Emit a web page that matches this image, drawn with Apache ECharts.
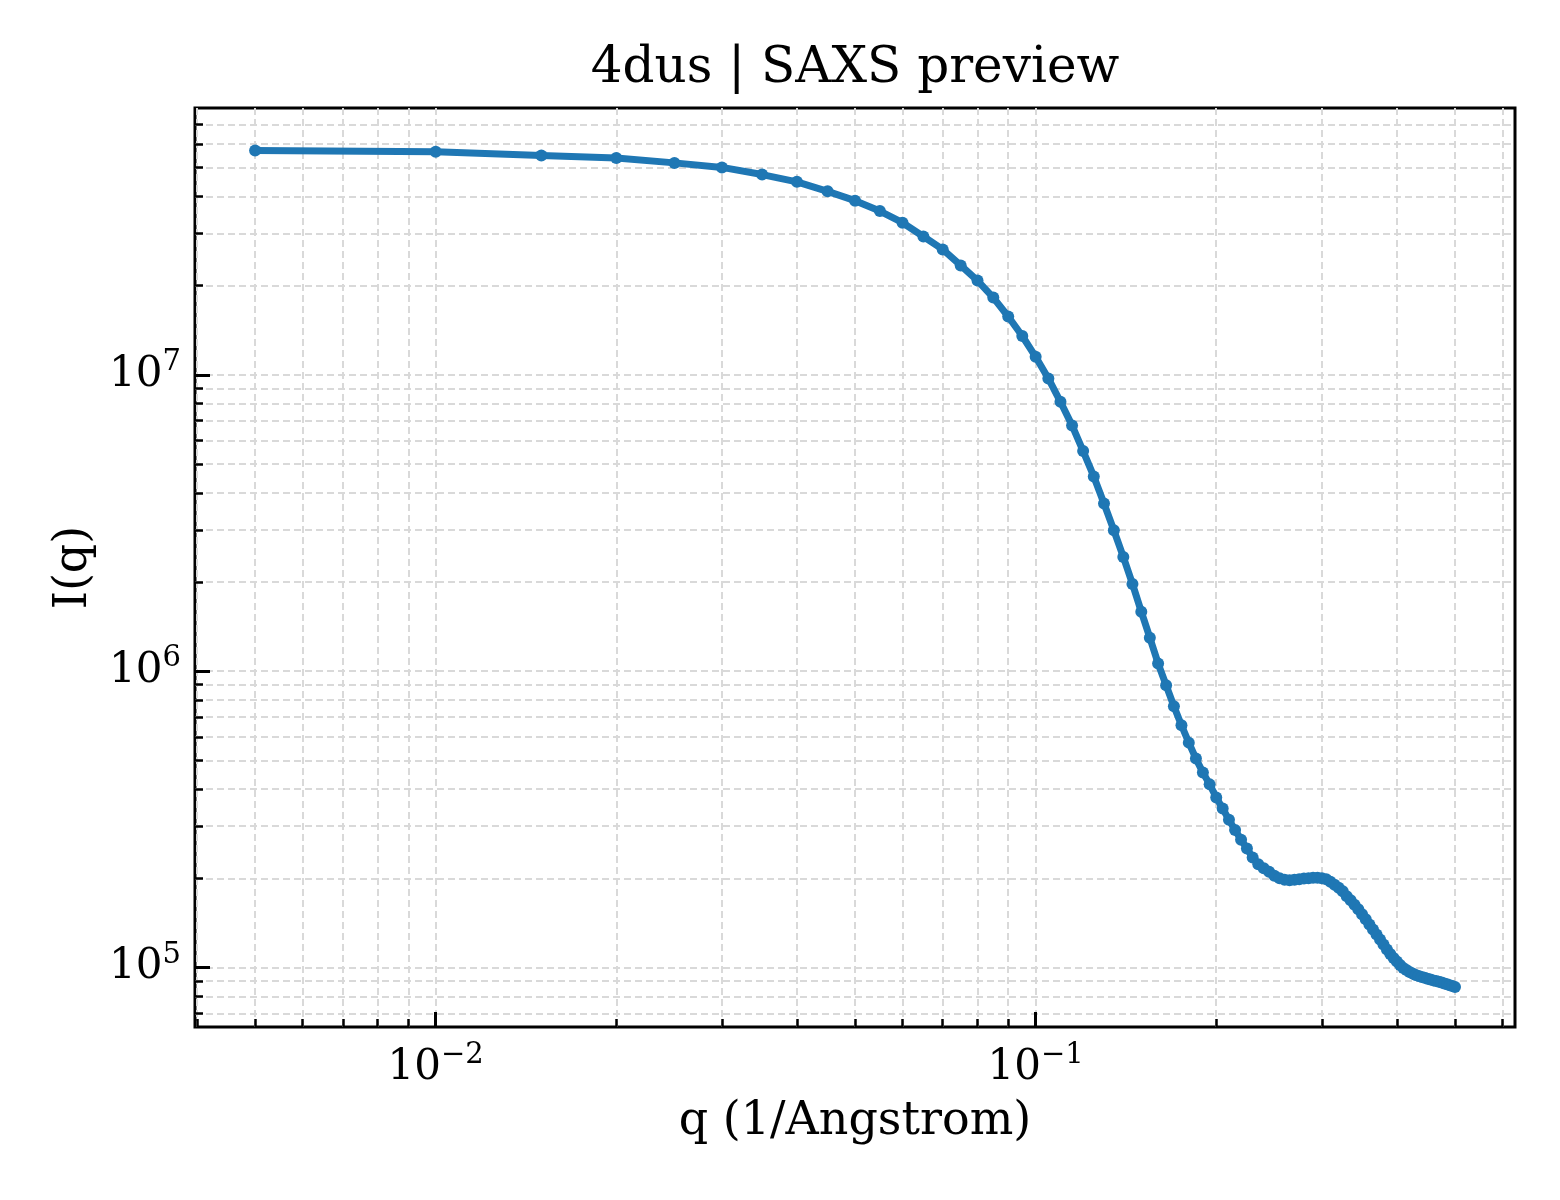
<!DOCTYPE html>
<html>
<head>
<meta charset="utf-8">
<title>4dus | SAXS preview</title>
<script src="https://cdn.jsdelivr.net/npm/echarts@6/dist/echarts.min.js"></script>
<style>
  html, body { margin: 0; padding: 0; background: #fff; }
  #chart { width: 1560px; height: 1200px; }
</style>
</head>
<body>
<div id="chart"></div>
<script>
// q values (1/Angstrom)
var qValues = [
  0.005, 0.010, 0.015, 0.020, 0.025, 0.030, 0.035, 0.040, 0.045, 0.050,
  0.055, 0.060, 0.065, 0.070, 0.075, 0.080, 0.085, 0.090, 0.095, 0.100,
  0.105, 0.110, 0.115, 0.120, 0.125, 0.130, 0.135, 0.140, 0.145, 0.150,
  0.155, 0.160, 0.165, 0.170, 0.175, 0.180, 0.185, 0.190, 0.195, 0.200,
  0.205, 0.210, 0.215, 0.220, 0.225, 0.230, 0.235, 0.240, 0.245, 0.250,
  0.255, 0.260, 0.265, 0.270, 0.275, 0.280, 0.285, 0.290, 0.295, 0.300,
  0.305, 0.310, 0.315, 0.320, 0.325, 0.330, 0.335, 0.340, 0.345, 0.350,
  0.355, 0.360, 0.365, 0.370, 0.375, 0.380, 0.385, 0.390, 0.395, 0.400,
  0.405, 0.410, 0.415, 0.420, 0.425, 0.430, 0.435, 0.440, 0.445, 0.450,
  0.455, 0.460, 0.465, 0.470, 0.475, 0.480, 0.485, 0.490, 0.495, 0.500
];

// I(q)
var intensity = [
  5.71e7, 5.66e7, 5.50e7, 5.39e7, 5.19e7, 5.01e7, 4.74e7, 4.48e7, 4.16e7, 3.87e7,
  3.57e7, 3.26e7, 2.93e7, 2.65e7, 2.34e7, 2.08e7, 1.823e7, 1.573e7, 1.352e7, 1.150e7,
  9.72e6, 8.11e6, 6.75e6, 5.53e6, 4.54e6, 3.68e6, 2.99e6, 2.43e6, 1.97e6, 1.588e6,
  1.297e6, 1.062e6, 8.96e5, 7.62e5, 6.57e5, 5.74e5, 5.07e5, 4.55e5, 4.15e5, 3.75e5,
  3.44e5, 3.15e5, 2.91e5, 2.70e5, 2.52e5, 2.35e5, 2.232e5, 2.163e5, 2.105e5, 2.040e5,
  2.001e5, 1.978e5, 1.970e5, 1.978e5, 1.986e5, 1.997e5, 2.001e5, 2.009e5, 2.009e5, 2.001e5,
  1.986e5, 1.947e5, 1.902e5, 1.858e5, 1.808e5, 1.739e5, 1.686e5, 1.628e5, 1.572e5, 1.512e5,
  1.454e5, 1.398e5, 1.345e5, 1.293e5, 1.244e5, 1.196e5, 1.151e5, 1.111e5, 1.077e5, 1.048e5,
  1.020e5, 9.96e4, 9.81e4, 9.66e4, 9.54e4, 9.43e4, 9.36e4, 9.29e4, 9.23e4, 9.17e4,
  9.11e4, 9.05e4, 9.00e4, 8.95e4, 8.90e4, 8.84e4, 8.78e4, 8.72e4, 8.66e4, 8.59e4
];

// axis ticks
var xMajorTicks = [0.01, 0.1];
var xMinorTicks = [0.004, 0.005, 0.006, 0.007, 0.008, 0.009,
  0.02, 0.03, 0.04, 0.05, 0.06, 0.07, 0.08, 0.09,
  0.2, 0.3, 0.4, 0.5, 0.6];
var yMajorTicks = [1e5, 1e6, 1e7];
var yMinorTicks = [7e4, 8e4, 9e4,
  2e5, 3e5, 4e5, 5e5, 6e5, 7e5, 8e5, 9e5,
  2e6, 3e6, 4e6, 5e6, 6e6, 7e6, 8e6, 9e6,
  2e7, 3e7, 4e7, 5e7, 6e7, 7e7];

var seriesData = qValues.map(function (q, i) { return [q, intensity[i]]; });

var FONT = '"DejaVu Serif", "Liberation Serif", serif';
var gridStyle = { color: '#d9d9d9', width: 2, type: [7, 4] };

function powLabel(v) {
  var e = Math.round(Math.log10(v));
  if (Math.abs(v / Math.pow(10, e) - 1) > 1e-6) return '';
  var s = e < 0 ? '\u2212' + (-e) : '' + e;
  return '{b|10}{s|' + s + '}';
}
var labelRich = {
  b: { fontFamily: FONT, fontSize: 42, color: '#000' },
  s: { fontFamily: FONT, fontSize: 29, color: '#000', padding: [0, 0, 25, 0] }
};

var chart = echarts.init(document.getElementById('chart'), null, { renderer: 'canvas' });

var option = {
  animation: false,
  backgroundColor: '#fff',
  title: {
    text: '4dus | SAXS preview',
    left: 850,
    textAlign: 'center',
    top: 39,
    textStyle: { fontFamily: FONT, fontSize: 50, fontWeight: 'normal', color: '#000' }
  },
  grid: {
    left: 195, right: 45, top: 108, bottom: 173,
    show: true, borderColor: '#000', borderWidth: 3, backgroundColor: 'transparent'
  },
  xAxis: [
    {
      type: 'log', logBase: 10, min: 0.00397, max: 0.6295,
      position: 'bottom',
      name: 'q (1/Angstrom)', nameLocation: 'middle', nameGap: 72,
      nameTextStyle: { fontFamily: FONT, fontSize: 46, color: '#000' },
      axisLine: { show: false },
      axisTick: { show: true, inside: true, length: 15, lineStyle: { color: '#000', width: 3 }, customValues: xMajorTicks },
      axisLabel: { margin: 14, formatter: powLabel, rich: labelRich, customValues: xMajorTicks },
      splitLine: { show: true, lineStyle: gridStyle }
    },
    {
      type: 'log', logBase: 10, min: 0.00397, max: 0.6295,
      position: 'bottom',
      axisLine: { show: false },
      axisTick: { show: true, inside: true, length: 8, lineStyle: { color: '#000', width: 2.5 }, customValues: xMinorTicks },
      axisLabel: { show: false },
      splitLine: { show: true, lineStyle: gridStyle }
    }
  ],
  yAxis: [
    {
      type: 'log', logBase: 10, min: 6.3e4, max: 7.95e7,
      position: 'left',
      name: 'I(q)', nameLocation: 'middle', nameGap: 98, nameRotate: 90,
      nameTextStyle: { fontFamily: FONT, fontSize: 46, color: '#000' },
      axisLine: { show: false },
      axisTick: { show: true, inside: true, length: 15, lineStyle: { color: '#000', width: 3 }, customValues: yMajorTicks },
      axisLabel: { margin: 14, formatter: powLabel, rich: labelRich, customValues: yMajorTicks },
      splitLine: { show: true, lineStyle: gridStyle }
    },
    {
      type: 'log', logBase: 10, min: 6.3e4, max: 7.95e7,
      position: 'left',
      axisLine: { show: false },
      axisTick: { show: true, inside: true, length: 8, lineStyle: { color: '#000', width: 2.5 }, customValues: yMinorTicks },
      axisLabel: { show: false },
      splitLine: { show: true, lineStyle: gridStyle }
    }
  ],
  series: [
    {
      name: 'I(q)',
      type: 'line',
      xAxisIndex: 0,
      yAxisIndex: 0,
      data: seriesData,
      showAllSymbol: true,
      symbol: 'circle',
      symbolSize: 12,
      itemStyle: { color: '#1f77b4' },
      lineStyle: { color: '#1f77b4', width: 7 },
      z: 5
    }
  ]
};

chart.setOption(option);
</script>
</body>
</html>
